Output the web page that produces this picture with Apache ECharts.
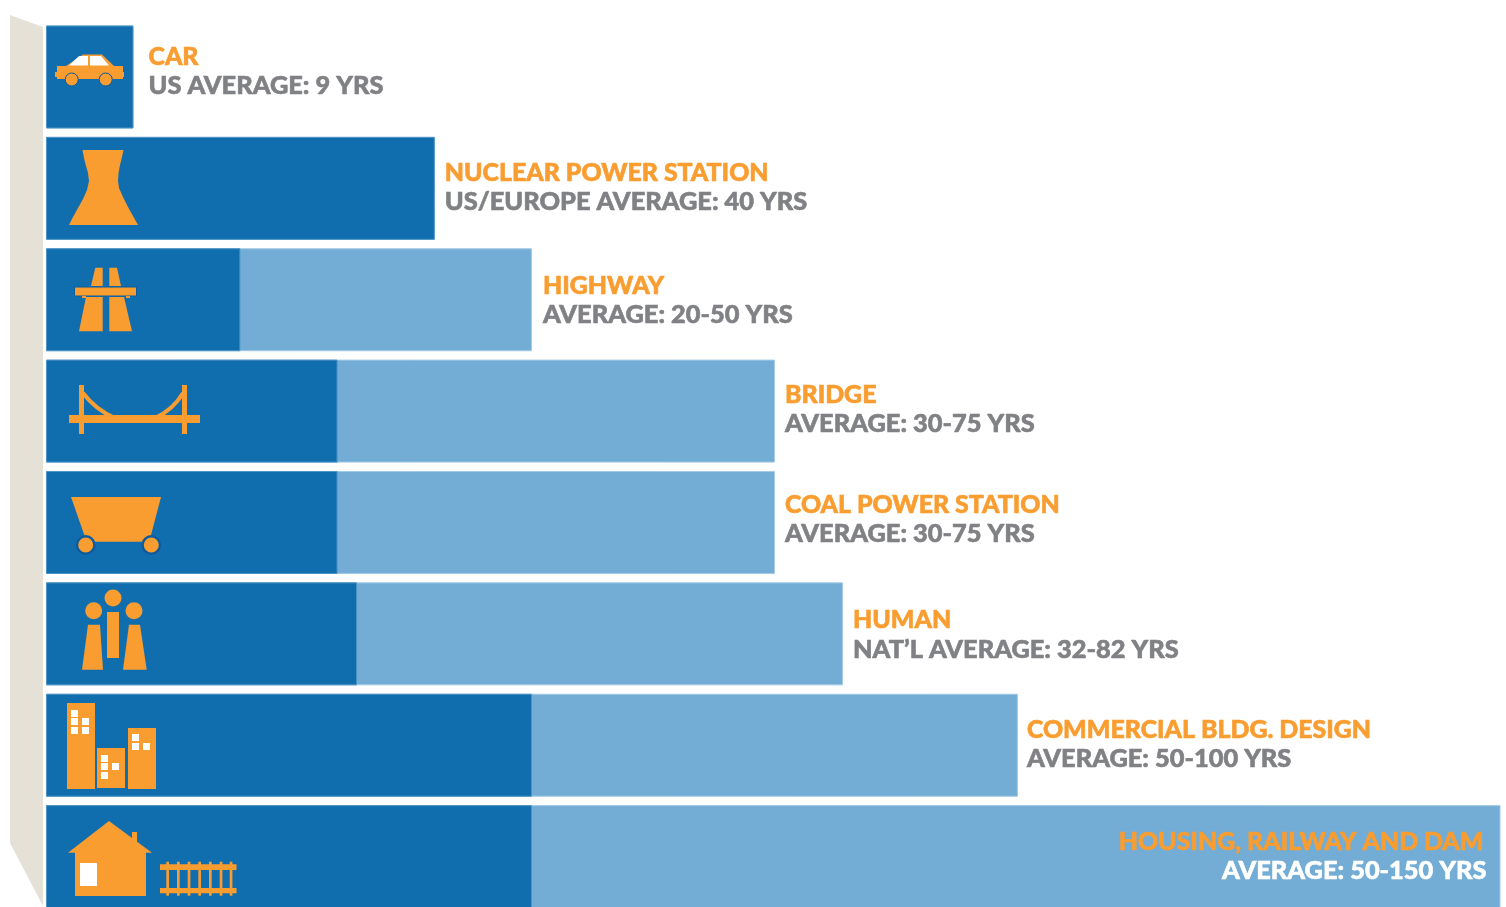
<!DOCTYPE html>
<html>
<head>
<meta charset="utf-8">
<title>Average lifespans</title>
<script src="https://cdn.jsdelivr.net/npm/echarts@6/dist/echarts.min.js"></script>
<style>
  html, body { margin: 0; padding: 0; background: #fff; }
  #chart { width: 1506px; height: 907px; }
</style>
</head>
<body>
<div id="chart"></div>
<script>
// Lifespan categories, top to bottom
const categories = ['CAR', 'NUCLEAR POWER STATION', 'HIGHWAY', 'BRIDGE', 'COAL POWER STATION', 'HUMAN', 'COMMERCIAL BLDG. DESIGN', 'HOUSING, RAILWAY AND DAM'];
const captions = ['US AVERAGE: 9 YRS', 'US/EUROPE AVERAGE: 40 YRS', 'AVERAGE: 20-50 YRS', 'AVERAGE: 30-75 YRS', 'AVERAGE: 30-75 YRS', 'NAT\u2019L AVERAGE: 32-82 YRS', 'AVERAGE: 50-100 YRS', 'AVERAGE: 50-150 YRS'];
// Years: low end of each range and high end of each range
const lowYears = [9, 40, 20, 30, 30, 32, 50, 50];
const highYears = [9, 40, 50, 75, 75, 82, 100, 150];

// Label nudges in pixels, one per bar
const labelDx = [15, 10, 11, 10, 10, 10, 9, -14];
const labelDy = [-5.5, -1, 0.5, -1.5, -3, 1, -1, 0];

const ORANGE = '#f99d31';
const DARK = '#116eae';
const LIGHT = '#73add6';
const GREY = '#808184';
const RING = '#0c5c9e';
const FONT = '"Lato Black", Lato, sans-serif';

const poly = (points, fill) => ({ type: 'polygon', shape: { points }, style: { fill } });
const rect = (x, y, width, height, fill) => ({ type: 'rect', shape: { x, y, width, height }, style: { fill } });
const disc = (cx, cy, r, fill, stroke, lineWidth) => ({ type: 'circle', shape: { cx, cy, r }, style: { fill, stroke, lineWidth: lineWidth || 0 } });
const curve = (x1, y1, cpx1, cpy1, cpx2, cpy2, x2, y2) => ({ type: 'bezierCurve', shape: { x1, y1, cpx1, cpy1, cpx2, cpy2, x2, y2 }, style: { fill: null, stroke: ORANGE, lineWidth: 4 } });

const backPanel = [poly([[10, 15], [43, 27], [43, 906], [10, 843]], '#e5e1d7')];

const carIcon = [
  poly([[66, 66], [83, 54.5], [102, 54.5], [114, 66]], ORANGE),
  rect(57, 66, 66, 13, ORANGE),
  rect(55, 72, 69, 5, ORANGE),
  poly([[69, 65.5], [79, 56], [88, 56], [88, 65.5]], '#fff'),
  poly([[90, 56], [101, 56], [109, 65.5], [90, 65.5]], '#fff'),
  disc(71.7, 79.5, 6.5, ORANGE, RING, 1),
  disc(105.7, 79.5, 6.5, ORANGE, RING, 1)
];

const coolingTower = [
  poly([[82.5, 150], [84, 158], [86, 166], [88, 173], [89, 181], [87, 190], [83, 199], [78, 208], [73, 217], [69, 225],
    [138, 225], [133, 216], [128, 207], [123, 197], [119, 188], [118, 181], [118.5, 173], [120, 165], [122, 157], [123.5, 150]], ORANGE)
];

const highwayIcon = [
  poly([[95.3, 267.7], [102.7, 267.7], [102.7, 286], [91, 286]], ORANGE),
  poly([[109.3, 267.7], [117, 267.7], [121, 286], [109.3, 286]], ORANGE),
  poly([[86, 297], [102.7, 297], [102.7, 331.3], [79, 331.3]], ORANGE),
  poly([[109.3, 297], [124, 297], [132, 331.3], [109.3, 331.3]], ORANGE),
  { type: 'rect', shape: { x: 74.5, y: 287, width: 62, height: 9 }, style: { fill: ORANGE, stroke: RING, lineWidth: 1 } },
  rect(82, 296, 4, 2, ORANGE),
  rect(126, 296, 4, 2, ORANGE)
];

const bridgeIcon = [
  curve(83, 393, 92, 405, 103, 413, 115, 418),
  curve(155, 418, 166, 413, 176, 405, 183, 393),
  rect(79, 385, 5, 49, ORANGE),
  rect(182, 385, 5, 49, ORANGE),
  rect(69, 415, 131, 8, ORANGE)
];

const cartIcon = [
  poly([[71, 497], [161, 497], [150.5, 537], [147, 541.7], [92, 541.7], [85, 537]], ORANGE),
  disc(85.7, 545, 8.75, ORANGE, RING, 2.5),
  disc(151.3, 545, 8.75, ORANGE, RING, 2.5)
];

const peopleIcon = [
  disc(93.7, 610.7, 8.5, ORANGE),
  disc(113, 598, 8.5, ORANGE),
  disc(134, 610.7, 8.5, ORANGE),
  poly([[88, 624.7], [100, 624.7], [103, 669.7], [82, 669.7]], ORANGE),
  rect(107, 612, 12, 46, ORANGE),
  poly([[129, 624.7], [140, 624.7], [146.7, 669.7], [123, 669.7]], ORANGE)
];

const windowAt = (x, y) => rect(x, y, 7, 7, '#fff');
const buildingsIcon = [
  rect(67, 703, 28, 86, ORANGE),
  rect(97, 748, 28, 40, ORANGE),
  rect(128, 728, 28, 61, ORANGE),
  windowAt(71, 710), windowAt(71, 718), windowAt(82, 718), windowAt(71, 727), windowAt(82, 727),
  windowAt(101, 755), windowAt(101, 763), windowAt(112, 763), windowAt(101, 772),
  windowAt(132, 734), windowAt(132, 743), windowAt(143, 743)
];

const fencePosts = [166.3, 177, 187.7, 198.3, 209, 219.7, 229.7];
const houseIcon = [
  rect(132, 832, 5, 14, ORANGE),
  poly([[109, 821], [152, 852.7], [68, 852.7]], ORANGE),
  rect(75, 852, 71, 44, ORANGE),
  rect(80, 863, 17, 23, '#fff'),
  rect(160, 864.3, 76.5, 5.7, ORANGE),
  rect(160, 888, 76.5, 5.3, ORANGE),
  ...fencePosts.map(x => rect(x, 861.7, 2.7, 34, ORANGE))
];

const icons = [...carIcon, ...coolingTower, ...highwayIcon, ...bridgeIcon, ...cartIcon, ...peopleIcon, ...buildingsIcon, ...houseIcon];

// Long range bars carry their label inside, the rest beside the bar end
const fitsInside = v => v >= 150;
const textStyle = (color, fontSize) => ({ color, fontFamily: FONT, fontWeight: 900, fontSize, lineHeight: 29, textBorderColor: color, textBorderWidth: 0.6 });

const chart = echarts.init(document.getElementById('chart'), null, { renderer: 'canvas' });
chart.setOption({
  animation: false,
  backgroundColor: '#fff',
  // 149.6 years across 1454 px keeps the scale at about 9.72 px per year
  grid: { left: 46, top: 21.3, width: 1454, height: 891, outerBoundsMode: 'none' },
  xAxis: { type: 'value', min: 0, max: 149.6, show: false },
  yAxis: { type: 'category', data: categories, inverse: true, show: false },
  graphic: { elements: backPanel.map(e => ({ ...e, z: 0 })).concat(icons.map(e => ({ ...e, z: 10 }))) },
  series: [
    {
      name: 'High end',
      type: 'bar',
      barWidth: 103,
      barGap: '-100%',
      clip: true,
      silent: true,
      itemStyle: { color: LIGHT, borderColor: '#a3cae5', borderWidth: 1 },
      data: highYears.map((value, i) => ({
        value,
        label: {
          show: true,
          position: fitsInside(value) ? 'insideRight' : 'right',
          distance: 0,
          offset: [labelDx[i], labelDy[i]],
          align: fitsInside(value) ? 'right' : 'left',
          formatter: () => `{name|${categories[i]}}\n{cap${fitsInside(value) ? 'In' : ''}|${captions[i]}}`,
          rich: {
            name: { ...textStyle(ORANGE, 24.9), padding: fitsInside(value) ? [0, 3, 0, 0] : 0 },
            cap: textStyle(GREY, 25.4),
            capIn: textStyle('#fff', 25.4)
          }
        }
      }))
    },
    {
      name: 'Low end',
      type: 'bar',
      barWidth: 103,
      clip: true,
      silent: true,
      itemStyle: { color: DARK, borderColor: '#4f94c6', borderWidth: 1 },
      data: lowYears
    }
  ]
});
</script>
</body>
</html>
